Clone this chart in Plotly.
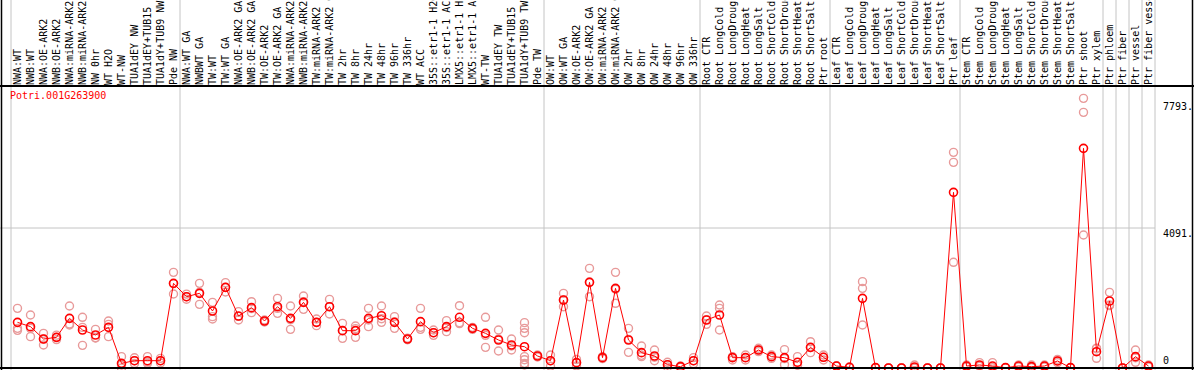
import plotly.graph_objects as go

gene = "Potri.001G263900"

labels = [
    "NWA:WT", "NWB:WT", "NWA:OE-ARK2", "NWB:OE-ARK2", "NWA:miRNA-ARK2", "NWB:miRNA-ARK2",
    "NW 0hr", "WT H2O", "WT-NW", "TUA1dEY NW", "TUA1dEY+TUB15", "TUA1dY+TUB9 NW", "Pde NW",
    "NWA:WT GA", "NWBWT GA", "TW:WT", "TW:WT GA", "NWA:OE-ARK2 GA", "NWB:OE-ARK2 GA",
    "TW:OE-ARK2", "TW:OE-ARK2 GA", "NWA:miRNA-ARK2 GA", "NWB:miRNA-ARK2 GA", "TW:miRNA-ARK2",
    "TW:miRNA-ARK2 GA", "TW 2hr", "TW 8hr", "TW 24hr", "TW 48hr", "TW 96hr", "TW 336hr",
    "WT ACC", "35S::etr1-1 H2O", "35S::etr1-1 ACC", "LMX5::etr1-1 H2O", "LMX5::etr1-1 ACC",
    "WT-TW", "TUA1dEY TW", "TUA1dEY+TUB15", "TUA1dY+TUB9 TW", "Pde TW",
    "OW:WT", "OW:WT GA", "OW:OE-ARK2", "OW:OE-ARK2 GA", "OW:miRNA-ARK2", "OW:miRNA-ARK2 GA",
    "OW 2hr", "OW 8hr", "OW 24hr", "OW 48hr", "OW 96hr", "OW 336hr",
    "Root CTR", "Root LongCold", "Root LongDrought", "Root LongHeat", "Root LongSalt",
    "Root ShortCold", "Root ShortDrought", "Root ShortHeat", "Root ShortSalt", "Ptr root",
    "Leaf CTR", "Leaf LongCold", "Leaf LongDrought", "Leaf LongHeat", "Leaf LongSalt",
    "Leaf ShortCold", "Leaf ShortDrought", "Leaf ShortHeat", "Leaf ShortSalt", "Ptr leaf",
    "Stem CTR", "Stem LongCold", "Stem LongDrought", "Stem LongHeat", "Stem LongSalt",
    "Stem ShortCold", "Stem ShortDrought", "Stem ShortHeat", "Stem ShortSalt", "Ptr shoot",
    "Ptr xylem", "Ptr phloem", "Ptr fiber", "Ptr vessel", "Ptr fiber vessel",
]

means = [
    1334, 1208, 847, 896, 1451, 1110, 964, 1188, 136, 214, 214, 214, 2474,
    2084, 2182, 1666, 2357, 1519, 1763, 1373, 1792, 1451, 1919, 1334, 1792, 1091, 1091,
    1451, 1529, 1334, 847, 1354, 1032, 1208, 1481, 1159, 1013, 818, 672, 623, 351,
    214, 1987, 156, 2503, 302, 2328, 818, 448, 351, 97, 39, 214,
    1403, 1549, 302, 302, 526, 331, 302, 166, 604, 312,
    58, 20, 2036, 10, 0, 0, 29, 0, 0, 5133,
    58, 88, 58, 10, 58, 39, 58, 205, 10, 6419, 477,
    1958, 0, 331, 58,
]

replicates = [
    [1743, 1159, 1100], [1549, 1159, 916], [1013, 847, 672], [960, 896, 830],
    [1812, 1285, 1256], [1481, 1187, 662], [1130, 886, 876], [1373, 1275, 916],
    [331, 88, 0], [300, 214, 130], [331, 175, 136], [282, 214, 146], [2795, 2465, 2162],
    [2160, 2084, 2010], [2474, 2212, 1860], [1919, 1500, 1432], [2494, 2357, 2220],
    [1646, 1508, 1403], [1938, 1734, 1617], [1403, 1373, 1343], [2036, 1743, 1597],
    [1812, 1411, 1130], [2104, 1938, 1714], [1432, 1334, 1237], [2006, 1792, 1578],
    [1305, 1100, 867], [1227, 1150, 896], [1743, 1402, 1208], [1812, 1441, 1334],
    [1500, 1343, 1159], [870, 847, 824], [1743, 1188, 1130], [1110, 1032, 954],
    [1383, 1179, 1062], [1821, 1297, 1325], [1188, 1159, 1130], [1481, 954, 604],
    [1110, 847, 497], [847, 643, 526], [1325, 1159, 1032, 331, 243, 136, 88],
    [380, 351, 322],
    [380, 214, 50], [2182, 1987, 1792], [250, 156, 60], [2912, 2514, 2084],
    [331, 302, 273], [2795, 2300, 1890], [1159, 837, 458], [643, 370, 331],
    [526, 313, 214], [166, 97, 30], [60, 39, 20], [302, 214, 126],
    [1519, 1414, 1276], [1841, 1743, 1110], [331, 302, 234], [380, 302, 234],
    [575, 526, 478], [380, 331, 282], [536, 273, 97], [331, 80, 88],
    [769, 595, 448], [380, 312, 234],
    [58, 58, 58], [20, 20, 20], [2523, 2328, 1256], [10, 10, 10], [0, 0, 0],
    [0, 0, 0], [88, 0, 0], [0, 0, 0], [0, 0, 0], [6302, 6010, 3088],
    [88, 58, 29], [156, 58, 50], [156, 10, 10], [10, 10, 10], [88, 58, 29],
    [88, 20, 10], [88, 58, 29], [253, 205, 157], [10, 10, 10], [7880, 7471, 3886],
    [575, 573, 283],
    [2211, 1841, 1822], [0, 0, 0], [526, 300, 166], [88, 58, 29],
]

group_starts = [0, 13, 41, 53, 63, 73, 84, 85, 86, 87, 88]
ytick_vals = [0, 4091, 7793]
ytick_text = ["0", "4091.", "7793."]

# ---------------- layout geometry ----------------
W, H = 1194, 370
TOP = 86            # pixel of plot-area top
COL_W = 13          # pixel width of one column
X_FIRST = 17.5      # pixel centre of first column
ZERO_PX = 368       # pixel of value 0
PPU = 140 / 4091    # pixels per unit

xr = [(0 - X_FIRST) / COL_W, (W - X_FIRST) / COL_W]
yr = [-(H - ZERO_PX) / PPU, (ZERO_PX - TOP) / PPU]
plot_h = H - TOP

def paper_y(px):
    return (H - px) / plot_h

FONT = "DejaVu Sans Mono"
RED = "#ff0000"
PINK = "#e89a9a"
GREY = "#c4c4c4"

x_idx = list(range(len(labels)))
rep_x, rep_y = [], []
for i, reps in enumerate(replicates):
    for v in reps:
        rep_x.append(i)
        rep_y.append(v)

fig = go.Figure()
fig.add_trace(go.Scatter(
    x=rep_x, y=rep_y, mode="markers",
    marker=dict(symbol="circle-open", size=8, color=PINK, line=dict(width=1.4, color=PINK)),
    hoverinfo="skip", cliponaxis=False,
))
fig.add_trace(go.Scatter(
    x=x_idx, y=means, mode="lines+markers",
    line=dict(color=RED, width=1),
    marker=dict(symbol="circle-open", size=8, color=RED, line=dict(width=1.6, color=RED)),
    cliponaxis=False,
))

shapes = []
last_x = group_starts[-1] - 0.5
for g in group_starts:
    shapes.append(dict(type="line", xref="x", yref="paper", x0=g - 0.5, x1=g - 0.5,
                       y0=0, y1=paper_y(0), line=dict(color=GREY, width=1), layer="below"))
shapes.append(dict(type="line", xref="x", yref="y", x0=xr[0], x1=last_x,
                   y0=ytick_vals[1], y1=ytick_vals[1], line=dict(color=GREY, width=1), layer="below"))
# frame
shapes.append(dict(type="line", xref="paper", yref="paper", x0=0, x1=1, y0=1, y1=1,
                   line=dict(color="black", width=2)))
shapes.append(dict(type="line", xref="paper", yref="y", x0=0, x1=1, y0=0, y1=0,
                   line=dict(color="black", width=2)))
shapes.append(dict(type="line", xref="paper", yref="paper", x0=1.5 / W, x1=1.5 / W,
                   y0=0, y1=paper_y(0), line=dict(color="black", width=1.5)))
shapes.append(dict(type="line", xref="paper", yref="paper", x0=(W - 1.5) / W, x1=(W - 1.5) / W,
                   y0=0, y1=paper_y(0), line=dict(color="black", width=1.5)))

annotations = []
for v, t in zip(ytick_vals, ytick_text):
    annotations.append(dict(
        x=1162 / W, xref="paper", xanchor="left", y=v, yref="y",
        yanchor="bottom" if v == 0 else "top", yshift=1 if v == 0 else 1,
        text=t, showarrow=False, font=dict(family=FONT, size=10, color="black"),
        borderpad=0,
    ))
annotations.append(dict(
    x=9 / W, xref="paper", xanchor="left", y=paper_y(96), yref="paper", yanchor="middle",
    text=gene, showarrow=False, font=dict(family=FONT, size=10, color=RED), borderpad=0,
))

fig.update_layout(
    width=W, height=H,
    margin=dict(l=0, r=0, t=TOP, b=0, pad=0),
    paper_bgcolor="white", plot_bgcolor="white",
    showlegend=False,
    shapes=shapes, annotations=annotations,
    xaxis=dict(
        range=xr, side="top", tickmode="array", tickvals=x_idx, ticktext=labels,
        tickangle=-90, tickfont=dict(family=FONT, size=10, color="black"),
        showgrid=False, zeroline=False, showline=False, ticks="", automargin=False,
    ),
    yaxis=dict(range=yr, showticklabels=False, showgrid=False, zeroline=False,
               showline=False, ticks="", automargin=False),
)

fig.write_html(
    "out.html",
    config={"displayModeBar": False},
    post_script="document.body.style.margin='0';document.body.style.overflow='hidden';",
)
